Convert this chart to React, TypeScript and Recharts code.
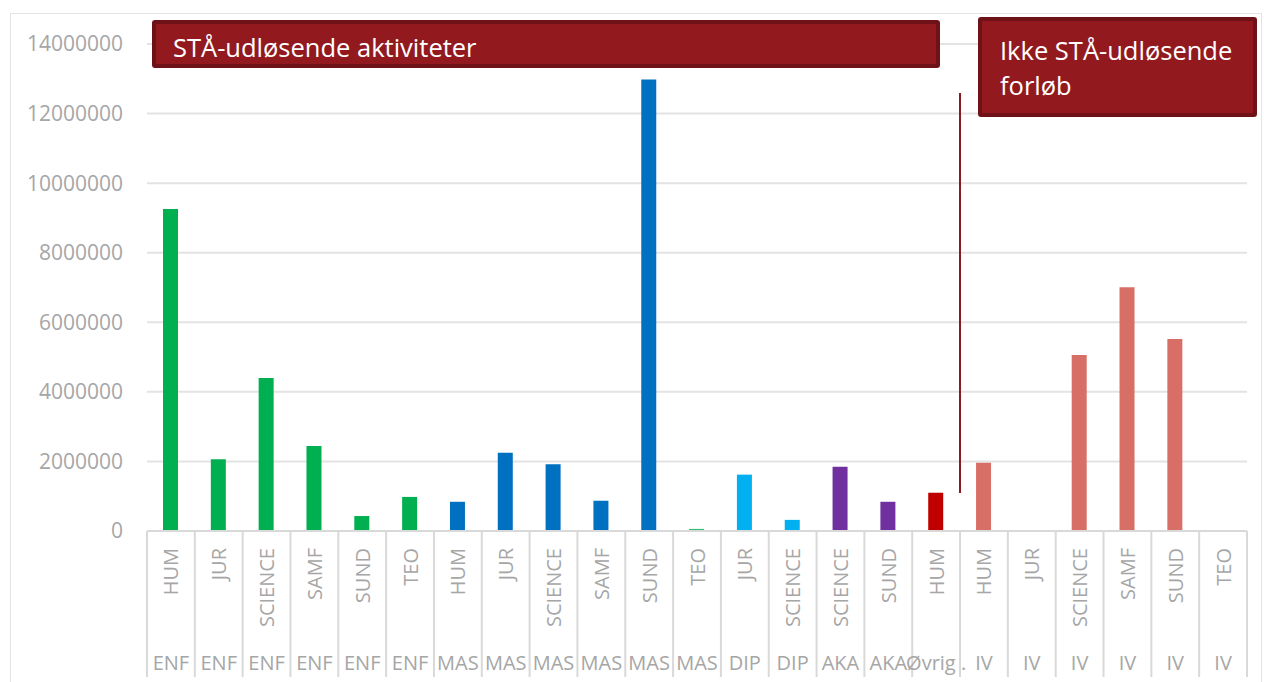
import React from 'react';
import { BarChart, Bar, XAxis, YAxis, CartesianGrid, Cell } from 'recharts';

const subLabels = ['HUM', 'JUR', 'SCIENCE', 'SAMF', 'SUND', 'TEO', 'HUM', 'JUR', 'SCIENCE', 'SAMF', 'SUND', 'TEO', 'JUR', 'SCIENCE', 'SCIENCE', 'SUND', 'HUM', 'HUM', 'JUR', 'SCIENCE', 'SAMF', 'SUND', 'TEO'];
const groupLabels = ['ENF', 'ENF', 'ENF', 'ENF', 'ENF', 'ENF', 'MAS', 'MAS', 'MAS', 'MAS', 'MAS', 'MAS', 'DIP', 'DIP', 'AKA', 'AKA', 'Øvrig .', 'IV', 'IV', 'IV', 'IV', 'IV', 'IV'];
const values = [9260000, 2060000, 4400000, 2440000, 430000, 980000, 840000, 2250000, 1920000, 870000, 12980000, 60000, 1620000, 320000, 1850000, 840000, 1100000, 1960000, 0, 5060000, 7010000, 5520000, 0];
const yTicks = [0, 2000000, 4000000, 6000000, 8000000, 10000000, 12000000, 14000000];

const barColors = ['#00B050', '#00B050', '#00B050', '#00B050', '#00B050', '#00B050', '#0070C0', '#0070C0', '#0070C0', '#0070C0', '#0070C0', '#2EC270', '#00B0F0', '#00B0F0', '#7030A0', '#7030A0', '#C00000', '#D86F66', '#D86F66', '#D86F66', '#D86F66', '#D86F66', '#D86F66'];

const data = values.map((v, i) => ({ key: i, sub: subLabels[i], group: groupLabels[i], value: v }));

const W = 1264;
const H = 682;
const LEFT = 147;
const RIGHT = 17;
const TOP = 44;
const XAXIS_H = 151;
const step = (W - LEFT - RIGHT) / data.length;
const labelFont = '"Open Sans", "Noto Sans", sans-serif';
const grey = '#A6A6A6';

const CategoryTick = (props: any) => {
  const { x, y, index } = props;
  const left = x - step / 2;
  const last = index === data.length - 1;
  return (
    <g>
      <line x1={left} y1={y} x2={left} y2={y + 146} stroke="#D9D9D9" strokeWidth={2} />
      {last && <line x1={left + step} y1={y} x2={left + step} y2={y + 146} stroke="#D9D9D9" strokeWidth={2} />}
      <text
        x={x}
        y={y + 17}
        transform={`rotate(-90 ${x} ${y + 17})`}
        textAnchor="end"
        dominantBaseline="central"
        fill={grey}
        fontSize={20}
        fontFamily={labelFont}
      >
        {subLabels[index]}
      </text>
      <text x={x} y={y + 131} textAnchor="middle" dominantBaseline="central" fill={grey} fontSize={20} fontFamily={labelFont}>
        {groupLabels[index]}
      </text>
    </g>
  );
};

const boxStyle: React.CSSProperties = {
  position: 'absolute',
  background: '#921A1F',
  border: '4px solid #6E1217',
  borderRadius: 3,
  boxSizing: 'border-box',
  color: '#fff',
  fontFamily: labelFont,
  fontSize: 25.5,
};

export default function App() {
  return (
    <div style={{ position: 'absolute', left: 0, top: 0, width: W, height: H, background: '#fff', overflow: 'hidden' }}>
      <div style={{ position: 'absolute', left: 10, top: 13, width: 1252, height: 700, border: '1.5px solid #E3E3E3', boxSizing: 'border-box' }} />
      <div style={{ position: 'absolute', left: 0, top: 0 }}>
        <BarChart width={W} height={H} data={data} margin={{ top: TOP, right: RIGHT, bottom: 0, left: 0 }} barSize={15}>
          <CartesianGrid vertical={false} stroke="#E3E3E3" strokeWidth={2} />
          <YAxis
            width={LEFT}
            domain={[0, 14000000]}
            ticks={yTicks}
            interval={0}
            axisLine={false}
            tickLine={false}
            tickSize={0}
            tickMargin={24}
            tick={{ fill: grey, fontSize: 21, fontFamily: labelFont }}
          />
          <XAxis
            dataKey="key"
            height={XAXIS_H}
            interval={0}
            tickLine={false}
            tickSize={0}
            tickMargin={0}
            axisLine={{ stroke: '#D9D9D9', strokeWidth: 2 }}
            tick={<CategoryTick />}
          />
          <Bar dataKey="value" isAnimationActive={false}>
            {data.map((d, i) => (
              <Cell key={d.key} fill={barColors[i]} />
            ))}
          </Bar>
        </BarChart>
      </div>
      <svg style={{ position: 'absolute', left: 0, top: 0, pointerEvents: 'none' }} width={W} height={H}>
        <line x1={960} y1={93} x2={960} y2={493} stroke="#8B1A1F" strokeWidth={2} />
      </svg>
      <div style={{ ...boxStyle, left: 152, top: 20, width: 788, height: 48, padding: '5px 0 0 17px', lineHeight: '36px' }}>
        STÅ-udløsende aktiviteter
      </div>
      <div style={{ ...boxStyle, left: 978, top: 17, width: 279, height: 100, padding: '12px 0 0 18px', lineHeight: '35px' }}>
        Ikke STÅ-udløsende
        <br />
        forløb
      </div>
    </div>
  );
}
